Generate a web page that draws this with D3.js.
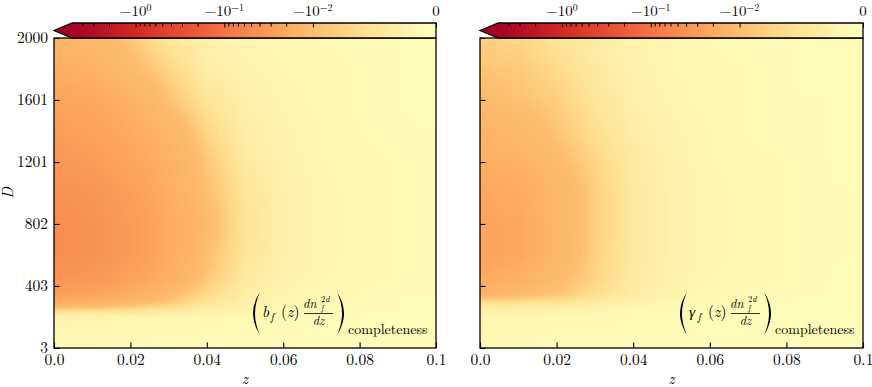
<!DOCTYPE html>
<html>
<head>
<meta charset="utf-8">
<script src="https://cdn.jsdelivr.net/npm/d3@7.9.0/dist/d3.min.js"></script>
<style>
  body { margin: 0; background: #fff; }
</style>
</head>
<body>
<svg id="chart" width="872" height="387"></svg>
<script>
// grid columns (z) and rows (D) the maps were read on
const zCols = [0, 0.01, 0.02, 0.03, 0.04, 0.05, 0.06, 0.07, 0.08, 0.09, 0.1];
const dRows = [3, 200, 250, 300, 350, 450, 600, 800, 1000, 1200, 1400, 1600, 1800, 2000];

// left panel: b_f(z) dn/dz completeness, one row per D (ascending)
const bfRows = [
  [-0.0012, -0.0012, -0.0012, -0.0009, -0.0009, -0.0009, -0.0009, -0.0006, -0.0006, -0.0006, -0.0006],
  [-0.0021, -0.0021, -0.0018, -0.0018, -0.0015, -0.0012, -0.0012, -0.0009, -0.0009, -0.0006, -0.0006],
  [-0.0071, -0.0068, -0.0062, -0.0050, -0.0032, -0.0021, -0.0015, -0.0012, -0.0009, -0.0009, -0.0006],
  [-0.0179, -0.0163, -0.0122, -0.0089, -0.0053, -0.0030, -0.0018, -0.0015, -0.0012, -0.0009, -0.0006],
  [-0.0261, -0.0238, -0.0179, -0.0111, -0.0065, -0.0032, -0.0021, -0.0015, -0.0012, -0.0009, -0.0009],
  [-0.0381, -0.0347, -0.0261, -0.0163, -0.0089, -0.0041, -0.0027, -0.0018, -0.0015, -0.0012, -0.0009],
  [-0.0460, -0.0419, -0.0315, -0.0197, -0.0100, -0.0050, -0.0030, -0.0021, -0.0015, -0.0012, -0.0009],
  [-0.0460, -0.0419, -0.0315, -0.0197, -0.0111, -0.0053, -0.0030, -0.0021, -0.0015, -0.0012, -0.0009],
  [-0.0419, -0.0381, -0.0287, -0.0179, -0.0100, -0.0050, -0.0030, -0.0021, -0.0015, -0.0012, -0.0009],
  [-0.0347, -0.0315, -0.0238, -0.0163, -0.0089, -0.0041, -0.0027, -0.0018, -0.0015, -0.0012, -0.0009],
  [-0.0287, -0.0261, -0.0197, -0.0135, -0.0071, -0.0035, -0.0024, -0.0018, -0.0012, -0.0009, -0.0009],
  [-0.0238, -0.0216, -0.0163, -0.0097, -0.0050, -0.0030, -0.0021, -0.0015, -0.0012, -0.0009, -0.0006],
  [-0.0179, -0.0163, -0.0111, -0.0071, -0.0035, -0.0024, -0.0018, -0.0015, -0.0012, -0.0009, -0.0006],
  [-0.0135, -0.0122, -0.0089, -0.0047, -0.0027, -0.0018, -0.0015, -0.0012, -0.0009, -0.0009, -0.0006]
];

// right panel: gamma_f(z) dn/dz completeness
const gammaRows = [
  [-0.0012, -0.0012, -0.0009, -0.0009, -0.0009, -0.0009, -0.0006, -0.0006, -0.0006, -0.0006, -0.0006],
  [-0.0018, -0.0018, -0.0015, -0.0015, -0.0012, -0.0012, -0.0009, -0.0009, -0.0006, -0.0006, -0.0006],
  [-0.0027, -0.0027, -0.0024, -0.0021, -0.0015, -0.0012, -0.0009, -0.0009, -0.0006, -0.0006, -0.0006],
  [-0.0065, -0.0062, -0.0053, -0.0038, -0.0024, -0.0018, -0.0012, -0.0012, -0.0009, -0.0006, -0.0006],
  [-0.0135, -0.0111, -0.0092, -0.0062, -0.0035, -0.0024, -0.0015, -0.0012, -0.0009, -0.0009, -0.0006],
  [-0.0197, -0.0163, -0.0111, -0.0074, -0.0041, -0.0027, -0.0018, -0.0015, -0.0012, -0.0009, -0.0006],
  [-0.0238, -0.0216, -0.0135, -0.0077, -0.0044, -0.0027, -0.0021, -0.0015, -0.0012, -0.0009, -0.0009],
  [-0.0238, -0.0216, -0.0135, -0.0080, -0.0044, -0.0027, -0.0021, -0.0015, -0.0012, -0.0009, -0.0009],
  [-0.0216, -0.0197, -0.0135, -0.0080, -0.0044, -0.0027, -0.0021, -0.0015, -0.0012, -0.0009, -0.0009],
  [-0.0179, -0.0163, -0.0111, -0.0071, -0.0041, -0.0027, -0.0018, -0.0015, -0.0012, -0.0009, -0.0006],
  [-0.0148, -0.0122, -0.0092, -0.0059, -0.0035, -0.0024, -0.0018, -0.0012, -0.0009, -0.0009, -0.0006],
  [-0.0111, -0.0097, -0.0080, -0.0050, -0.0030, -0.0021, -0.0015, -0.0012, -0.0009, -0.0009, -0.0006],
  [-0.0092, -0.0086, -0.0065, -0.0041, -0.0027, -0.0018, -0.0015, -0.0012, -0.0009, -0.0006, -0.0006],
  [-0.0077, -0.0071, -0.0053, -0.0035, -0.0024, -0.0018, -0.0012, -0.0009, -0.0009, -0.0006, -0.0006]
];

const xTicks = [0, 0.02, 0.04, 0.06, 0.08, 0.1];
const xTickLabels = ['0.0', '0.02', '0.04', '0.06', '0.08', '0.1'];
const yTicks = [3, 403, 802, 1201, 1601, 2000];

// colorbar (symlog)
const cbMajor = [-1, -0.1, -0.01, 0];
const cbMajorLabels = [['−10', '0'], ['−10', '−1'], ['−10', '−2'], ['0', '']];
const cbMinor = [-4, -3, -2, -0.9, -0.8, -0.7, -0.6, -0.5, -0.4, -0.3, -0.2,
  -0.09, -0.08, -0.07, -0.06, -0.05, -0.04, -0.03, -0.02];
const vmin = -5.2;
const linthresh = 0.01;
const linscale = 1.25;

// lower half of RdYlBu: 0 -> pale yellow, vmin -> dark red
const rdyl = ['#ffffbf', '#fee090', '#fdae61', '#f46d43', '#d73027', '#a50026'];

const FONT = '"Latin Modern Roman", "Liberation Serif", serif';
const svg = d3.select('#chart');
const plotTop = 38, plotBottom = 348, cbTop = 23;

const linAdj = linscale / (1 - 1 / 10);
function symT(v) {
  const a = Math.abs(v);
  if (a <= linthresh) return v * linAdj;
  return Math.sign(v) * linthresh * (linAdj + Math.log10(a / linthresh));
}
const cmap = d3.scaleLinear()
  .domain(d3.range(rdyl.length).map((i) => i / (rdyl.length - 1)))
  .range(rdyl)
  .interpolate(d3.interpolateRgb)
  .clamp(true);
const colorOf = (v) => cmap(symT(v) / symT(vmin));

const zIndex = d3.scaleLinear().domain(zCols).range(d3.range(zCols.length)).clamp(true);
const dIndex = d3.scaleLinear().domain(dRows).range(d3.range(dRows.length)).clamp(true);

function fieldValue(grid, z, D) {
  const fx = zIndex(z), fy = dIndex(D);
  const i0 = Math.min(Math.floor(fx), zCols.length - 2);
  const j0 = Math.min(Math.floor(fy), dRows.length - 2);
  const u = fx - i0, w = fy - j0;
  const a = grid[j0][i0], b = grid[j0][i0 + 1];
  const c = grid[j0 + 1][i0], d = grid[j0 + 1][i0 + 1];
  return (a * (1 - u) + b * u) * (1 - w) + (c * (1 - u) + d * u) * w;
}

function addText(sel, size) {
  return sel.append('text')
    .style('font-family', FONT)
    .style('font-size', `${size}px`)
    .attr('fill', '#000');
}

const panels = [
  { grid: bfRows, x0: 54, x1: 436, sym: 'b', ann: 252, yLabels: true },
  { grid: gammaRows, x0: 480, x1: 863, sym: 'γ', ann: 679, yLabels: false }
];

panels.forEach((p) => {
  const x = d3.scaleLinear().domain([0, 0.1]).range([p.x0, p.x1]);
  const y = d3.scaleLinear().domain([3, 2000]).range([plotBottom, plotTop]);
  const g = svg.append('g');

  // heat map
  const w = Math.round(p.x1 - p.x0), h = plotBottom - plotTop;
  const canvas = document.createElement('canvas');
  canvas.width = w; canvas.height = h;
  const ctx = canvas.getContext('2d');
  const img = ctx.createImageData(w, h);
  for (let py = 0; py < h; py++) {
    const D = y.invert(plotTop + py + 0.5);
    for (let px = 0; px < w; px++) {
      const z = x.invert(p.x0 + px + 0.5);
      const c = d3.rgb(colorOf(fieldValue(p.grid, z, D)));
      const k = (py * w + px) * 4;
      img.data[k] = c.r; img.data[k + 1] = c.g; img.data[k + 2] = c.b; img.data[k + 3] = 255;
    }
  }
  ctx.putImageData(img, 0, 0);
  g.append('image')
    .attr('href', canvas.toDataURL())
    .attr('x', p.x0).attr('y', plotTop)
    .attr('width', w).attr('height', h)
    .attr('preserveAspectRatio', 'none');

  // axes
  const xAxis = g.append('g')
    .attr('transform', `translate(0,${plotBottom})`)
    .call(d3.axisBottom(x).tickValues(xTicks).tickFormat((d, i) => xTickLabels[i])
      .tickSizeInner(-5.5).tickSizeOuter(0).tickPadding(6));
  const yAxis = g.append('g')
    .attr('transform', `translate(${p.x0},0)`)
    .call(d3.axisLeft(y).tickValues(yTicks).tickFormat((d) => (p.yLabels ? d : ''))
      .tickSizeInner(-5.5).tickSizeOuter(0).tickPadding(6));
  [xAxis, yAxis].forEach((a) => {
    a.select('.domain').remove();
    a.attr('font-family', null).attr('font-size', null);
    a.selectAll('line').attr('stroke', '#000').attr('stroke-width', 1.1);
    a.selectAll('text').attr('fill', '#000')
      .style('font-family', FONT).style('font-size', '15.5px');
  });

  g.append('rect')
    .attr('x', p.x0).attr('y', plotTop)
    .attr('width', p.x1 - p.x0).attr('height', plotBottom - plotTop)
    .attr('fill', 'none').attr('stroke', '#000').attr('stroke-width', 1.3);

  addText(g, 15.5)
    .attr('x', (p.x0 + p.x1) / 2).attr('y', 384)
    .attr('text-anchor', 'middle')
    .style('font-style', 'italic')
    .text('z');

  // colorbar
  const total = p.x1 - p.x0;
  const inner = total / 1.05;
  const cbLeft = p.x1 - inner;
  const cbX = d3.scaleLinear().domain([symT(vmin), 0]).range([cbLeft, p.x1]);
  const cb = svg.append('g');
  for (let px = Math.floor(cbLeft); px < p.x1; px++) {
    const t = cbX.invert(px + 0.5);
    cb.append('rect')
      .attr('x', px).attr('y', cbTop)
      .attr('width', 1.2).attr('height', plotTop - cbTop)
      .attr('fill', cmap(t / symT(vmin)));
  }
  const midY = (cbTop + plotTop) / 2;
  cb.append('path')
    .attr('d', `M${p.x0},${midY}L${cbLeft},${cbTop}L${cbLeft},${plotTop}Z`)
    .attr('fill', cmap(1));
  cb.append('path')
    .attr('d', `M${p.x0},${midY}L${cbLeft},${cbTop}L${p.x1},${cbTop}L${p.x1},${plotTop}L${cbLeft},${plotTop}Z`)
    .attr('fill', 'none').attr('stroke', '#000').attr('stroke-width', 1.3)
    .attr('stroke-linejoin', 'miter');

  const cbMinorAxis = cb.append('g')
    .attr('transform', `translate(0,${cbTop})`)
    .call(d3.axisTop(cbX).tickValues(cbMinor.map(symT)).tickFormat('')
      .tickSizeInner(-3.5).tickSizeOuter(0));
  const cbMajorAxis = cb.append('g')
    .attr('transform', `translate(0,${cbTop})`)
    .call(d3.axisTop(cbX).tickValues(cbMajor.map(symT)).tickFormat('')
      .tickSizeInner(-4.5).tickSizeOuter(0));
  [cbMinorAxis, cbMajorAxis].forEach((a) => {
    a.select('.domain').remove();
    a.selectAll('line').attr('stroke', '#000').attr('stroke-width', 1);
  });
  cbMajor.forEach((v, i) => {
    const t = addText(cb, 15)
      .attr('x', cbX(symT(v))).attr('y', 16)
      .attr('text-anchor', 'middle');
    t.append('tspan').text(cbMajorLabels[i][0]);
    if (cbMajorLabels[i][1]) {
      t.append('tspan').attr('dy', -5).style('font-size', '10px').text(cbMajorLabels[i][1]);
    }
  });

  // annotation
  const a = svg.append('g').attr('transform', `translate(${p.ann},0)`);
  a.append('path')
    .attr('d', 'M8,292Q-6,313.5 8,335Q-2,313.5 8,292Z').attr('fill', '#000');
  a.append('path')
    .attr('d', 'M85,292Q99,313.5 85,335Q95,313.5 85,292Z').attr('fill', '#000');
  addText(a, 15.5).attr('x', 10).attr('y', 317).style('font-style', 'italic').text(p.sym);
  addText(a, 10.5).attr('x', 18.5).attr('y', 321).style('font-style', 'italic').text('f');
  const zz = addText(a, 15.5).attr('x', 29).attr('y', 317);
  zz.append('tspan').text('(');
  zz.append('tspan').style('font-style', 'italic').text('z');
  zz.append('tspan').text(')');
  addText(a, 12.5).attr('x', 51).attr('y', 308).style('font-style', 'italic').text('dn');
  addText(a, 8.5).attr('x', 69).attr('y', 302).text('2').append('tspan').style('font-style', 'italic').text('d');
  addText(a, 8).attr('x', 69).attr('y', 311).style('font-style', 'italic').text('f');
  a.append('line')
    .attr('x1', 52).attr('x2', 81).attr('y1', 313.5).attr('y2', 313.5)
    .attr('stroke', '#000').attr('stroke-width', 0.8);
  addText(a, 12.5).attr('x', 66.5).attr('y', 325).attr('text-anchor', 'middle')
    .style('font-style', 'italic').text('dz');
  addText(a, 14).attr('x', 96).attr('y', 334).text('completeness');
});

addText(svg, 15.5)
  .attr('transform', `translate(13,${(plotTop + plotBottom) / 2}) rotate(-90)`)
  .attr('text-anchor', 'middle')
  .style('font-style', 'italic')
  .text('D');
</script>
</body>
</html>
